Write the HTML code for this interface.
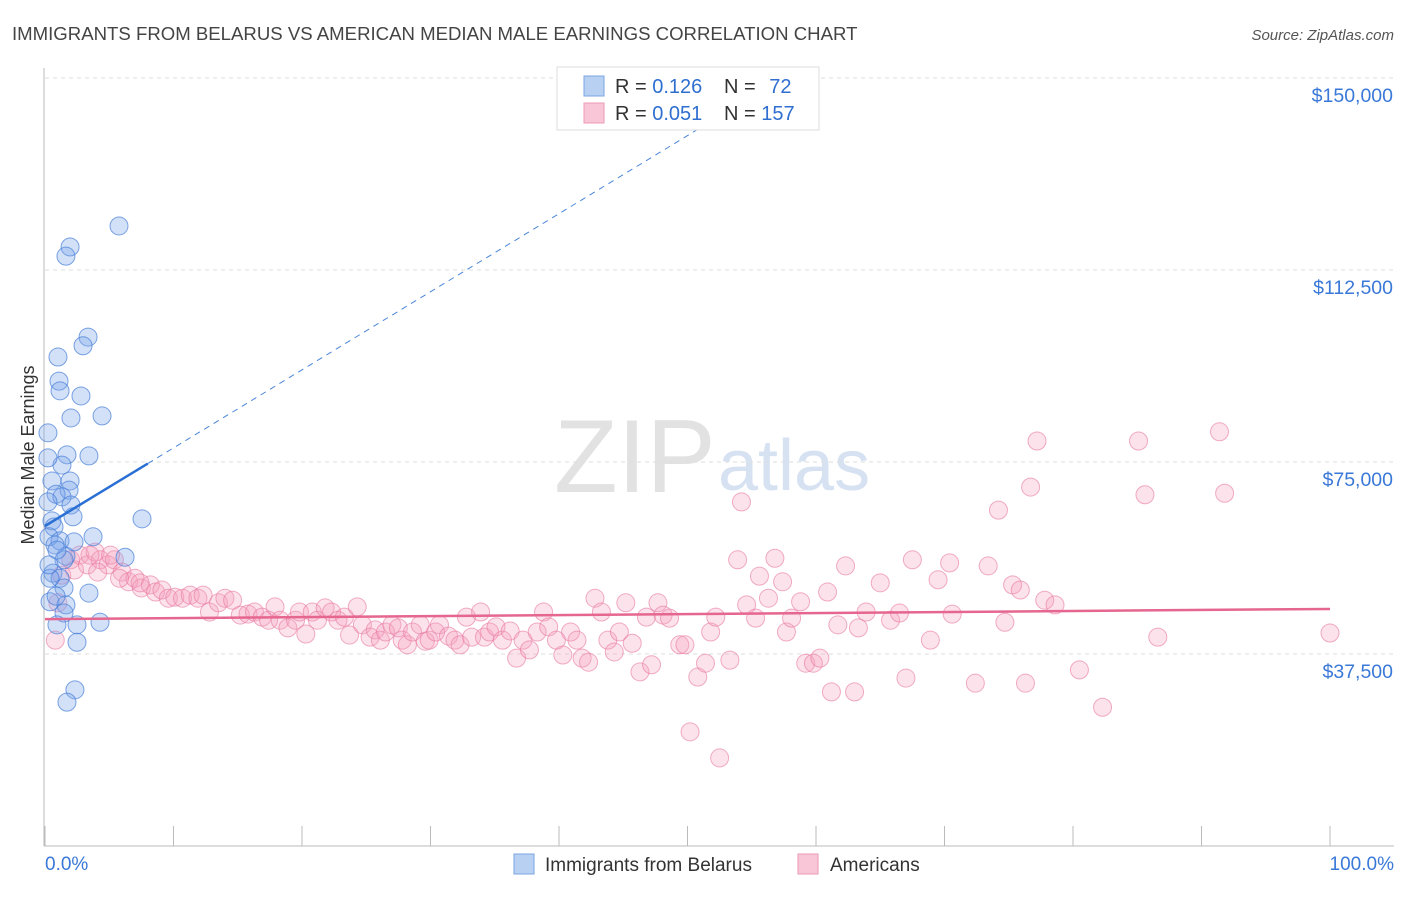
<!DOCTYPE html>
<html><head><meta charset="utf-8"><style>
body{margin:0;background:#fff;font-family:"Liberation Sans",sans-serif}
svg text{font-family:"Liberation Sans",sans-serif}
</style></head><body>
<svg id="chart" width="1406" height="892">
<text x="12" y="40" font-size="18.6" fill="#444">IMMIGRANTS FROM BELARUS VS AMERICAN MEDIAN MALE EARNINGS CORRELATION CHART</text>
<text x="1394" y="40" font-size="15" fill="#555" font-style="italic" text-anchor="end">Source: ZipAtlas.com</text>
<text x="554" y="492" font-size="104" fill="#e2e2e2" font-family="Liberation Serif">ZIP</text>
<text x="718" y="490" font-size="72" fill="#d6e2f2">atlas</text>
<text transform="translate(34,455) rotate(-90)" font-size="18" fill="#333" text-anchor="middle">Median Male Earnings</text>
<g id="grid"></g><g id="pts"></g><g id="lines"></g>
<g>
<rect x="557" y="67" width="262" height="63" fill="#fff" stroke="#ddd"/>
<rect x="584" y="76" width="20" height="20" fill="#b8d0f2" stroke="#7aa6e0"/>
<rect x="584" y="103" width="20" height="20" fill="#f8c6d6" stroke="#ec9ab6"/>
<text x="615" y="93" font-size="20" fill="#333">R = <tspan fill="#2f6fd0">0.126</tspan></text>
<text x="724" y="93" font-size="20" fill="#333">N = <tspan fill="#2f6fd0" dx="8">72</tspan></text>
<text x="615" y="120" font-size="20" fill="#333">R = <tspan fill="#2f6fd0">0.051</tspan></text>
<text x="724" y="120" font-size="20" fill="#333">N = <tspan fill="#2f6fd0">157</tspan></text>
</g>
<g>
<rect x="514" y="854" width="20" height="20" fill="#b8d0f2" stroke="#7aa6e0"/>
<text x="545" y="871" font-size="19" fill="#333">Immigrants from Belarus</text>
<rect x="798" y="854" width="20" height="20" fill="#f8c6d6" stroke="#ec9ab6"/>
<text x="830" y="871" font-size="19" fill="#333">Americans</text>
</g>
<text x="45" y="870" font-size="19" fill="#3a78d8">0.0%</text>
<text x="1394" y="870" font-size="19" fill="#3a78d8" text-anchor="end">100.0%</text>
</svg>
<script>
const yTicks=[37500,75000,112500,150000];
const yTickLabels=["$37,500","$75,000","$112,500","$150,000"];
const xTicks=[0,10,20,30,40,50,60,70,80,90,100];
const blueX=[5.76,1.95,1.63,3.35,2.96,1.01,1.09,1.17,2.80,2.02,4.44,0.23,3.42,1.71,1.32,0.23,0.54,1.95,1.87,0.86,1.32,0.23,2.02,2.18,0.54,0.70,7.55,0.31,1.17,2.26,3.74,1.63,6.23,1.48,0.62,1.17,0.39,1.48,3.42,0.39,1.63,1.48,4.28,0.93,2.49,2.49,2.33,1.71,0.78,0.93,0.31,0.86];
const blueY=[121.1,117.0,115.2,99.4,97.7,95.5,90.8,88.9,87.9,83.6,84.0,80.7,76.2,76.4,74.4,75.8,71.3,71.3,69.5,68.7,68.2,67.2,66.6,64.3,63.5,62.3,63.9,60.4,59.6,59.4,60.4,56.6,56.4,55.9,53.3,52.3,52.3,50.4,49.4,47.7,47.1,45.5,43.7,43.2,43.2,39.8,30.5,28.1,58.8,57.8,54.9,48.8];
const pinkX=[0.8,1.0,1.3,2.0,2.3,2.7,3.3,3.9,4.3,4.9,5.4,6.0,6.5,7.0,7.5,8.2,8.6,9.1,9.6,10.1,10.7,11.3,11.9,12.3,12.8,13.5,14.0,14.6,15.2,15.8,16.3,16.9,17.4,17.9,18.3,18.9,19.5,19.8,20.3,20.8,21.2,21.8,22.3,22.8,23.3,23.7,24.3,24.7,25.3,25.7,26.1,26.5,27.0,27.5,27.8,28.2,28.6,29.2,29.6,29.9,30.4,30.7,31.4,31.9,32.3,32.8,33.2,33.9,34.2,34.6,35.1,35.6,36.2,36.7,37.2,37.7,38.3,38.8,39.2,39.8,40.3,40.9,41.4,41.8,42.3,42.8,43.3,43.8,44.3,44.7,45.2,45.7,46.3,46.8,47.2,47.7,48.1,48.6,49.4,49.8,50.2,50.8,51.4,51.8,52.2,52.5,53.3,53.9,54.2,54.6,55.3,55.6,56.3,56.8,57.4,57.7,58.1,58.8,59.2,59.8,60.3,60.9,61.2,61.7,62.3,63.0,63.3,63.9,65.0,65.8,66.5,67.0,67.5,68.9,69.5,70.4,70.6,72.4,73.4,74.2,74.7,75.3,75.9,76.3,76.7,77.2,77.8,78.6,80.5,82.3,85.1,85.6,86.6,91.4,91.8,100.0,3.5,4.1,5.1,5.8,7.4];
const pinkY=[40.2,47.5,52.9,55.9,53.9,56.8,54.9,57.4,55.9,54.9,55.9,53.5,51.6,52.3,50.4,51.0,49.6,50.0,48.4,48.6,48.4,49.0,48.4,49.0,45.7,47.5,48.4,48.0,45.1,45.3,45.7,44.7,44.1,46.7,44.1,42.6,44.1,45.7,41.4,45.7,44.1,46.5,45.7,44.1,44.7,41.2,46.7,43.2,40.8,42.2,40.2,41.8,43.2,42.6,40.2,39.3,41.8,43.2,40.0,40.2,41.8,43.2,41.0,40.2,39.3,44.7,40.8,45.7,40.8,41.8,42.8,40.2,42.0,36.7,40.2,38.3,41.8,45.7,42.8,40.2,37.3,41.8,40.2,36.7,35.9,48.4,45.7,40.2,37.9,41.8,47.5,39.6,34.0,44.7,35.4,47.5,45.1,44.5,39.3,39.3,22.3,33.0,35.7,41.8,44.7,17.2,36.3,55.9,67.2,47.1,44.5,52.7,48.4,56.2,51.6,41.8,44.5,47.7,35.7,35.7,36.7,49.6,30.1,43.2,54.7,30.1,42.6,45.7,51.4,44.1,45.5,32.8,55.9,40.2,52.0,55.3,45.3,31.8,54.7,65.6,43.7,51.0,50.0,31.8,70.1,79.1,48.0,47.1,34.4,27.1,79.1,68.6,40.8,80.9,68.9,41.6,56.8,53.5,56.8,52.3,51.4];
const blueTrend=[62.5,74.7,150];
const blueTrendX=[0,8];
const pinkTrend=[44.3,46.3];
const NS='http://www.w3.org/2000/svg';
const xs=p=>45+p*12.85;
const ys=k=>846-k*1000*192/37500;
function mk(t,a,p){const e=document.createElementNS(NS,t);for(const k in a)e.setAttribute(k,a[k]);p.appendChild(e);return e;}
const grid=document.getElementById('grid'),pts=document.getElementById('pts'),lines=document.getElementById('lines');
yTicks.forEach((v,i)=>{
 const y=ys(v/1000);
 const l=mk('line',{x1:45,x2:1394,y1:y,y2:y,stroke:'#ddd','stroke-dasharray':'4,4'},grid);
 
 
 const t=mk('text',{x:1393,y:y+24,'font-size':19.5,fill:'#3a78d8','text-anchor':'end'},grid);
 t.textContent=yTickLabels[i];
 
 
});
const ax=mk('line',{x1:44,x2:44,y1:68,y2:846,stroke:'#bbb'},grid);


const bx=mk('line',{x1:44,x2:1394,y1:846,y2:846,stroke:'#bbb'},grid);


xTicks.forEach(p=>{const t=mk('line',{x1:xs(p),x2:xs(p),y1:826,y2:846,stroke:'#bbb'},grid);
 
 });
pinkX.forEach((p,i)=>{const c=mk('circle',{cx:xs(p),cy:ys(pinkY[i]),r:9,fill:'rgba(244,160,188,0.3)',stroke:'rgba(232,120,160,0.6)','stroke-width':1},pts);
 
 });
blueX.forEach((p,i)=>{const c=mk('circle',{cx:xs(p),cy:ys(blueY[i]),r:9,fill:'rgba(120,165,235,0.33)',stroke:'rgba(70,125,215,0.7)','stroke-width':1},pts);
 
 });
const slope=(blueTrend[1]-blueTrend[0])/(blueTrendX[1]-blueTrendX[0]);
const xEnd=(blueTrend[2]-blueTrend[0])/slope;
const bd=mk('line',{x1:xs(blueTrendX[1]),y1:ys(blueTrend[1]),x2:xs(xEnd),y2:ys(blueTrend[2]),stroke:'#4a86d8','stroke-width':1,'stroke-dasharray':'6,5'},lines);


const bl=mk('line',{x1:xs(blueTrendX[0]),y1:ys(blueTrend[0]),x2:xs(blueTrendX[1]),y2:ys(blueTrend[1]),stroke:'#2a6fd4','stroke-width':2.5},lines);


const pl=mk('line',{x1:xs(0),y1:ys(pinkTrend[0]),x2:xs(100),y2:ys(pinkTrend[1]),stroke:'#e5668f','stroke-width':2.5},lines);


</script>
</body></html>
